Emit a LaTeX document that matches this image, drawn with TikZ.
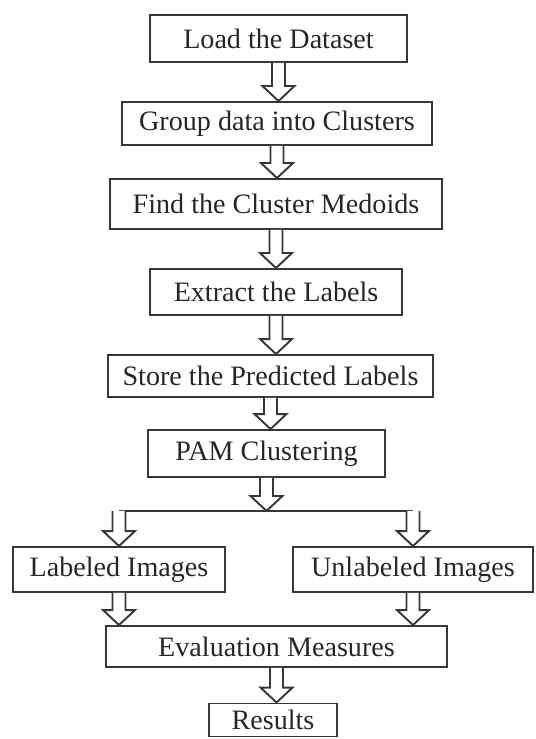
\documentclass[tikz,border=0pt]{standalone}
\usepackage{fontspec}
\setmainfont{Liberation Serif}
\usetikzlibrary{positioning, calc}
\definecolor{lineGray}{RGB}{55, 55, 55}

% hollow block arrow from #1 down to the tip #2 (same x)
\newcommand{\blkarrow}[2]{%
  \draw[blk] ($(#1)+(-6.5,0)$) -- ($(#2)+(-6.5,-15)$) -- ($(#2)+(-16,-15)$)
        -- (#2) -- ($(#2)+(16,-15)$) -- ($(#2)+(6.5,-15)$) -- ($(#1)+(6.5,0)$);}

\begin{document}
\begin{tikzpicture}[x=0.02cm, y=-0.02cm,
          box/.style={draw=lineGray, line width=1.1pt, inner sep=0pt, align=center,
                      text=black!85, font=\fontsize{16}{19}\selectfont},
          sz/.style 2 args={minimum width=#1*0.02cm, minimum height=#2*0.02cm},
          blk/.style={draw=lineGray, line width=1.1pt, fill=white, line join=miter},
          split/.style={draw=lineGray, line width=1.1pt}
        ]
        \useasboundingbox (0,0) rectangle (535,739);

        \node[box, sz={257}{47}] (load)    at (278.5,38.5) {Load the Dataset};
        \node[box, sz={310}{43}] (group)   at (277,123.5)  {Group data into Clusters};
        \node[box, sz={332}{50}] (medoid)  at (276,204)    {Find the Cluster Medoids};
        \node[box, sz={252}{46}] (extract) at (276,292)    {Extract the Labels};
        \node[box, sz={325}{42}] (store)   at (270.5,376)  {Store the Predicted Labels};
        \node[box, sz={237}{47}] (pam)     at (266.5,453.5){PAM Clustering};
        \node[box, sz={212}{45}] (lab)     at (119,569.5)  {Labeled Images};
        \node[box, sz={240}{45}] (unlab)   at (413,569.5)  {Unlabeled Images};
        \node[box, sz={341}{41}] (eval)    at (276.5,646.5){Evaluation Measures};
        \node[box, sz={128}{33}] (res)     at (273,720)    {Results};

        \blkarrow{load.south}{load.south |- group.north}
        \blkarrow{group.south}{group.south |- medoid.north}
        \blkarrow{medoid.south}{medoid.south |- extract.north}
        \blkarrow{extract.south}{extract.south |- store.north}
        \blkarrow{store.south}{store.south |- pam.north}

        % branch into the two image sets
        \coordinate (fork) at ($(pam.south)+(0,33)$);
        \coordinate (forkL) at (lab.north |- fork);
        \coordinate (forkR) at (unlab.north |- fork);
        \draw[split] (forkL) -- (forkR);
        \blkarrow{pam.south}{fork}
        \blkarrow{forkL}{lab.north}
        \blkarrow{forkR}{unlab.north}

        \blkarrow{lab.south}{lab.south |- eval.north}
        \blkarrow{unlab.south}{unlab.south |- eval.north}
        \blkarrow{eval.south}{eval.south |- res.north}
\end{tikzpicture}
\end{document}
